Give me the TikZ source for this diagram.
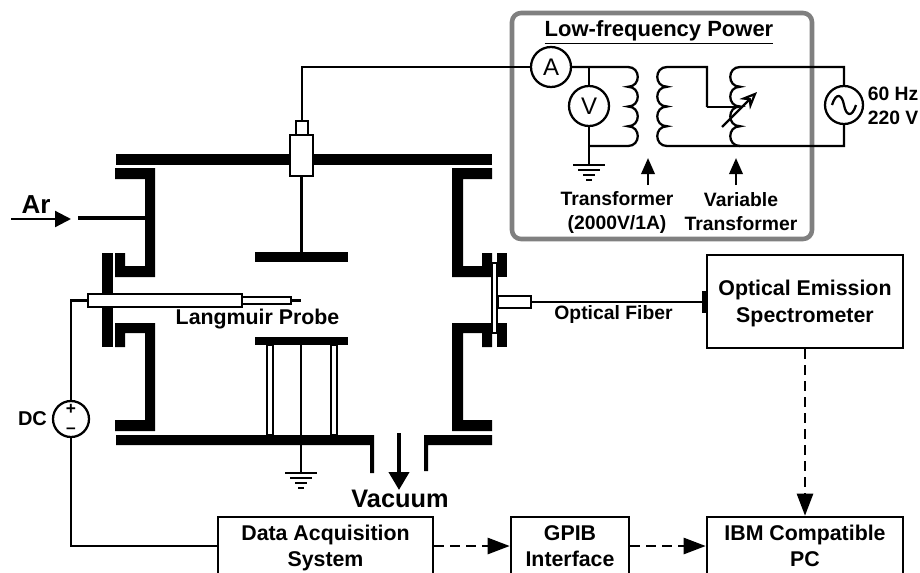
\documentclass[tikz,border=0pt]{standalone}
\usepackage{fontspec}
\setmainfont{Liberation Sans}
\usetikzlibrary{arrows.meta}

\newcommand{\px}{0.75pt}
% four bumps of a winding, #1 gives the side they bulge to
\newcommand{\coilpath}[1]{\foreach \i in {1,...,4}{.. controls +(#1,0) and +(#1,0) .. ++(0,19.75)}}
\newcommand{\gnd}[2]{\foreach \w/\d in {16/0,11/5,6/10,3/15}{\draw[wire] (#1-\w,#2+\d) -- (#1+\w,#2+\d);}}
\newcommand{\topstrut}{\rule{0pt}{14.5pt}}

\tikzset{
  wire/.style={line width=1.7pt},
  metal/.style={fill=black},
  tube/.style={draw=black,fill=white,line width=1.5pt,inner sep=0pt},
  meter/.style={circle,draw=black,fill=white,line width=1.7pt,inner sep=0pt,minimum size=40*\px,font=\fontsize{18}{18}\selectfont},
  box/.style={draw=black,line width=1.9pt,align=center,inner sep=0pt,font=\bfseries\fontsize{16}{20}\selectfont},
  lbl/.style={inner sep=0pt,align=center,font=\bfseries\fontsize{14.5}{18}\selectfont},
  dasharrow/.style={line width=1.9pt,dash pattern=on 7.5pt off 4.5pt,-{Triangle[length=16.5pt,width=12pt]}},
  smallarrow/.style={line width=1.9pt,-{Triangle[length=12pt,width=10pt]}}
}

\begin{document}
\begin{tikzpicture}[x=\px,y=-\px]
  \useasboundingbox (0,0) rectangle (920,572);
  \clip (0,0) rectangle (920,572);

  % chamber walls
  \fill[metal] (116,154) rectangle (492,165);
  \fill[metal] (116,435) -- (374,435) -- (374,473) -- (370,473) -- (370,445) -- (116,445) -- cycle;
  \fill[metal] (492,435) -- (424,435) -- (424,471) -- (428,471) -- (428,445) -- (492,445) -- cycle;
  \fill[metal] (115,168) -- (155,168) -- (155,277) -- (115,277) -- (115,253) -- (125,253) -- (125,266) -- (145,266) -- (145,179) -- (115,179) -- cycle;
  \fill[metal] (115,347) -- (125,347) -- (125,333) -- (145,333) -- (145,420) -- (115,420) -- (115,431) -- (155,431) -- (155,323) -- (115,323) -- cycle;
  \fill[metal] (492,168) -- (452,168) -- (452,277) -- (492,277) -- (492,253) -- (482,253) -- (482,266) -- (463,266) -- (463,179) -- (492,179) -- cycle;
  \fill[metal] (492,347) -- (482,347) -- (482,333) -- (463,333) -- (463,420) -- (492,420) -- (492,431) -- (452,431) -- (452,323) -- (492,323) -- cycle;
  \fill[metal] (102,253) rectangle (113,347);
  \fill[metal] (497,253) rectangle (507,277);
  \fill[metal] (497,323) rectangle (507,347);

  % electrodes
  \fill[metal] (255,252) rectangle (348,262);
  \fill[metal] (255,337) rectangle (348,345);
  \draw[tube] (267,345) rectangle (273,435);
  \draw[tube] (331,345) rectangle (337,435);
  \draw[wire] (301,345) -- (301,435);
  \draw[wire] (301,445) -- (301,473);
  \gnd{301}{473}

  % feedthrough on top
  \node[tube,minimum width=23*\px,minimum height=41*\px] (feedbody) at (301.5,155.5) {};
  \node[tube,minimum width=12*\px,minimum height=14*\px] (feedcap) at (302,128) {};
  \draw[wire] (feedbody.south) -- (301.5,252);

  % gas inlet
  \draw[line width=3pt] (78,218) -- (145,218);
  \draw[wire,-{Triangle[length=12pt,width=12pt]}] (11,219) -- (71,219);
  \node[lbl,font=\bfseries\fontsize{19.5}{20}\selectfont] (arlabel) at (36,205) {Ar};

  % Langmuir probe
  \node[tube,minimum width=154*\px,minimum height=13*\px] (lptube) at (165,300.5) {};
  \node[tube,minimum width=49*\px,minimum height=7*\px] (lpthin) at (266.5,300.5) {};
  \coordinate (lptip) at (301,300.5);
  \draw[wire] (lpthin.east) -- (lptip);
  \node[lbl,font=\bfseries\fontsize{16}{18}\selectfont] (lplabel) at (257.5,319) {Langmuir Probe};

  % DC supply
  \node[meter,minimum size=36*\px] (dcsource) at (71,419) {};
  \node[lbl,font=\bfseries\fontsize{13}{13}\selectfont] (dcplus) at (71,409) {+};
  \node[lbl,font=\bfseries\fontsize{13}{13}\selectfont] (dcminus) at (71,431) {–};
  \node[lbl,font=\bfseries\fontsize{15}{18}\selectfont] (dclabel) at (32.5,419) {DC};

  % window and optical fiber
  \draw[tube] (492,263) rectangle (497,333);
  \node[tube,minimum width=33*\px,minimum height=12*\px] (lens) at (514.5,302) {};
  \node[fill=black,inner sep=0pt,minimum width=6*\px,minimum height=22*\px] (fiberend) at (705,302) {};
  \draw[wire] (lens.east) -- (fiberend.west);
  \node[lbl] (fiberlabel) at (613.5,314) {Optical Fiber};

  % vacuum
  \draw[line width=3pt,-{Triangle[length=13.5pt,width=15pt]}] (399,433) -- (399,490);
  \node[lbl,font=\bfseries\fontsize{19}{20}\selectfont] (vaclabel) at (400,499) {Vacuum};

  % instruments
  \node[box,minimum width=196*\px,minimum height=93*\px] (oes) at (805,301.5) {\topstrut Optical Emission\\Spectrometer};
  \node[box,minimum width=215*\px,minimum height=58*\px] (daq) at (325.5,546) {\topstrut Data Acquisition\\System};
  \node[box,minimum width=118*\px,minimum height=58*\px] (gpib) at (570,546) {GPIB\\Interface};
  \node[box,minimum width=196*\px,minimum height=58*\px] (ibm) at (805,546) {IBM Compatible\\PC};
  \draw[dasharrow] (daq) -- (gpib);
  \draw[dasharrow] (gpib) -- (ibm);
  \draw[dasharrow] (oes) -- (ibm);
  \draw[wire] (lptube.west) -| (dcsource.north);
  \draw[wire] (dcsource.south) |- (daq.west);

  % low-frequency power
  \draw[line width=3.4pt,draw=black!50,rounded corners=9*\px] (512,13) rectangle (812,239);
  \node[lbl,font=\bfseries\fontsize{16.5}{18}\selectfont] (powertitle) at (659,32) {\underline{Low-frequency Power}};
  \node[meter] (ammeter) at (551,67) {A};
  \node[meter] (vmeter) at (589,106) {V};
  \node[meter,minimum size=38*\px] (source) at (844,105) {};
  \draw[wire] (832,105) .. controls (836,92) and (842,94) .. (844,105) .. controls (846,116) and (852,118) .. (856,105);
  \draw[wire] (feedcap.north) |- (ammeter.west);
  \draw[wire] (ammeter.east) -- (628,67) \coilpath{13} -- (589,146);
  \draw[wire] (589,67) -- (vmeter.north);
  \draw[wire] (vmeter.south) -- (589,165);
  \gnd{589}{165}
  \draw[wire] (707,107) -- (707,67) -- (667,67) \coilpath{-13} -| (source.south);
  \draw[wire] (source.north) |- (740,67) \coilpath{-13};
  \draw[wire] (707,107) -- (738,107);
  \draw[line width=1.7pt,-{Stealth[open,length=13pt,width=11pt]}] (722,127) -- (757,92);
  \draw[smallarrow] (648,185) -- (648,158);
  \draw[smallarrow] (736,185) -- (736,158);
  \node[lbl] (xfmrlabel) at (617,212) {Transformer\\(2000V/1A)};
  \node[lbl] (varlabel) at (741,212) {Variable\\Transformer};
  \node[lbl,align=left] (linelabel) at (893,106) {60 Hz\\220 V};
\end{tikzpicture}
\end{document}
